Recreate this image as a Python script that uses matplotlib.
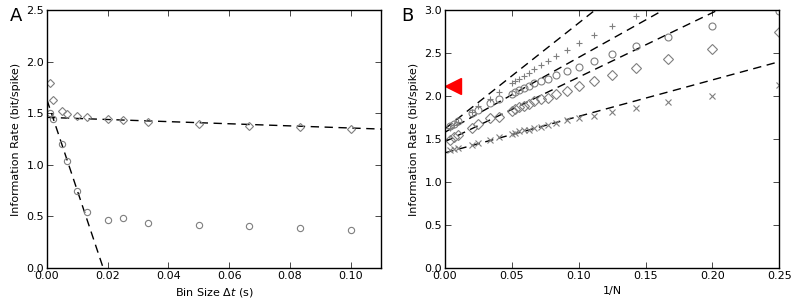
import numpy as np
import matplotlib.pyplot as plt

# Panel A: information rate vs bin size
bin_size = [0.001, 0.002, 0.005, 0.00667, 0.01, 0.0133, 0.02, 0.025, 0.0333, 0.05, 0.0667, 0.0833, 0.1]
rate_diamond = [1.79, 1.63, 1.52, 1.49, 1.47, 1.46, 1.44, 1.43, 1.42, 1.40, 1.38, 1.37, 1.35]
rate_circle = [1.50, 1.44, 1.20, 1.04, 0.75, 0.545, 0.465, 0.48, 0.44, 0.42, 0.41, 0.39, 0.37]
fit_a_flat = (1.46, -1.03)    # intercept, slope
fit_a_steep = (1.63, -88.0)

# Panel B: information rate vs 1/N
N = [250, 150, 100, 50, 40, 30, 25, 20, 19, 18, 17, 16, 15, 14, 13, 12, 11, 10, 9, 8, 7, 6, 5, 4]
rate_plus = [1.63, 1.66, 1.70, 1.82, 1.88, 1.97, 2.05, 2.15, 2.17, 2.20, 2.23, 2.27, 2.31, 2.36,
             2.41, 2.47, 2.54, 2.62, 2.71, 2.82, 2.93, 3.10, 3.28, 3.55]
rate_o = [1.65, 1.67, 1.71, 1.80, 1.84, 1.92, 1.96, 2.02, 2.05, 2.07, 2.09, 2.12, 2.15, 2.18,
          2.20, 2.25, 2.29, 2.34, 2.41, 2.49, 2.58, 2.69, 2.82, 2.99]
rate_d = [1.49, 1.52, 1.55, 1.63, 1.67, 1.74, 1.76, 1.83, 1.85, 1.87, 1.89, 1.91, 1.94, 1.96,
          1.98, 2.02, 2.06, 2.12, 2.18, 2.25, 2.33, 2.43, 2.55, 2.74]
rate_x = [1.37, 1.38, 1.395, 1.43, 1.45, 1.49, 1.52, 1.56, 1.575, 1.59, 1.60, 1.61, 1.625, 1.64,
          1.665, 1.69, 1.72, 1.745, 1.77, 1.82, 1.86, 1.93, 2.00, 2.13]
fits_b = [(1.62, 12.3), (1.58, 8.7), (1.47, 7.5), (1.34, 4.24)]
red_marker = (0.0062, 2.12)

gray = '#7f7f7f'
plt.rcParams['font.size'] = 8

fig = plt.figure(figsize=(7.92, 3.02), dpi=100)
axA = fig.add_axes([0.0593, 0.1126, 0.4217, 0.854])
axB = fig.add_axes([0.5619, 0.1126, 0.4221, 0.854])

mk = dict(linestyle='none', markerfacecolor='none', markeredgecolor=gray, markeredgewidth=0.8)

# Panel A
xa = np.linspace(0, 0.11, 200)
for b, m in [fit_a_flat, fit_a_steep]:
    axA.plot(xa, b + m * xa, color='black', lw=1, dashes=(6, 4))
axA.plot(bin_size, rate_diamond, marker='D', ms=4, **mk)
axA.plot(bin_size, rate_circle, marker='o', ms=4.5, **mk)
axA.set_xlim(0, 0.11)
axA.set_ylim(0, 2.5)
axA.set_xticks(np.arange(0, 0.101, 0.02))
axA.set_yticks(np.arange(0, 2.51, 0.5))
axA.set_xlabel(r'Bin Size $\Delta t$ (s)')
axA.set_ylabel('Information Rate (bit/spike)')

# Panel B
invN = 1.0 / np.array(N)
xb = np.linspace(0, 0.25, 200)
for b, m in fits_b:
    axB.plot(xb, b + m * xb, color='black', lw=1, dashes=(6, 4))
axB.plot(invN, rate_plus, marker='+', ms=5, **mk)
axB.plot(invN, rate_o, marker='o', ms=5, **mk)
axB.plot(invN, rate_d, marker='D', ms=5, **mk)
axB.plot(invN, rate_x, marker='x', ms=4.5, **mk)
axB.plot(*red_marker, marker='<', ms=11, color='red', linestyle='none')
axB.set_xlim(0, 0.25)
axB.set_ylim(0, 3.0)
axB.set_xticks(np.arange(0, 0.251, 0.05))
axB.set_yticks(np.arange(0, 3.01, 0.5))
axB.set_xlabel('1/N')
axB.set_ylabel('Information Rate (bit/spike)')

for ax in (axA, axB):
    ax.xaxis.set_major_formatter(plt.FormatStrFormatter('%.2f'))
    ax.yaxis.set_major_formatter(plt.FormatStrFormatter('%.1f'))
    ax.tick_params(direction='in', top=True, right=True, length=4, width=0.5, pad=2)
    for s in ax.spines.values():
        s.set_linewidth(1)

fig.text(0.013, 0.93, 'A', fontsize=13)
fig.text(0.507, 0.93, 'B', fontsize=13)

fig.savefig('out.png')
